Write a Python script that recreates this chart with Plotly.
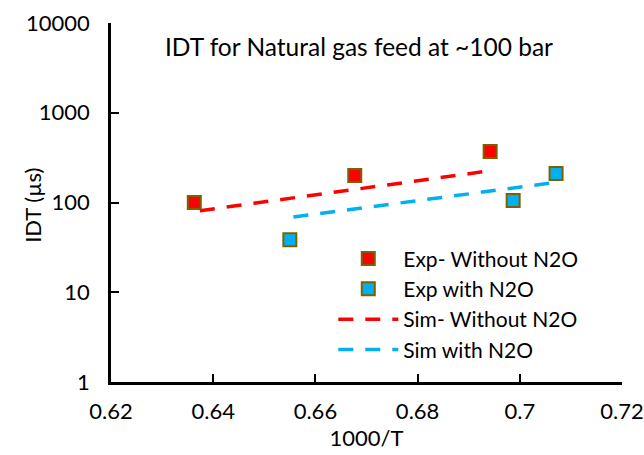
import plotly.graph_objects as go

# Data
exp_without_x = [0.6363, 0.6677, 0.6942]
exp_without_y = [100, 200, 370]
exp_with_x = [0.6550, 0.6987, 0.7071]
exp_with_y = [38.5, 105, 210]
sim_without_x = [0.6374, 0.6945]
sim_without_y = [81, 227]
sim_with_x = [0.6557, 0.7073]
sim_with_y = [69, 168]

y_tickvals = [1, 10, 100, 1000, 10000]
y_ticktext = ["1", "10", "100", "1000", "10000"]
x_tickvals = [0.62, 0.64, 0.66, 0.68, 0.70, 0.72]
x_ticktext = ["0.62", "0.64", "0.66", "0.68", "0.7", "0.72"]

FONT = "Lato"
FS = 22
RED = "#FF0000"
BLUE = "#00B0F0"
EDGE = "#7F6000"

fig = go.Figure()
fig.add_trace(go.Scatter(
    x=exp_without_x, y=exp_without_y, mode="markers", name="Exp- Without N2O",
    marker=dict(symbol="square", size=13, color=RED, line=dict(color=EDGE, width=2))))
fig.add_trace(go.Scatter(
    x=exp_with_x, y=exp_with_y, mode="markers", name="Exp with N2O",
    marker=dict(symbol="square", size=13, color=BLUE, line=dict(color=EDGE, width=2))))
fig.add_trace(go.Scatter(
    x=sim_without_x, y=sim_without_y, mode="lines", name="Sim- Without N2O",
    line=dict(color=RED, width=3.5, dash="15px,12px")))
fig.add_trace(go.Scatter(
    x=sim_with_x, y=sim_with_y, mode="lines", name="Sim with N2O",
    line=dict(color=BLUE, width=3.5, dash="15px,12px")))

fig.update_layout(
    width=644, height=455,
    margin=dict(l=111, r=22, t=23, b=73, autoexpand=False),
    plot_bgcolor="white", paper_bgcolor="white",
    font=dict(family=FONT, size=FS, color="#000000"),
    showlegend=True,
    legend=dict(x=0.435, y=0.40, xanchor="left", yanchor="top",
                bgcolor="rgba(0,0,0,0)", font=dict(size=21, family=FONT),
                itemwidth=60),
    annotations=[
        dict(text="IDT for Natural gas feed at ~100 bar",
             xref="paper", yref="paper", x=0.485, y=0.935,
             xanchor="center", yanchor="middle", showarrow=False,
             font=dict(size=24.5, family=FONT)),
        dict(text="IDT (µs)", textangle=-90,
             xref="paper", yref="paper", x=-0.155, y=0.493,
             xanchor="center", yanchor="middle", showarrow=False,
             font=dict(size=FS, family=FONT)),
    ],
)
fig.update_xaxes(
    range=[0.62, 0.72], tickvals=x_tickvals, ticktext=x_ticktext,
    showgrid=False, zeroline=False, showline=True, linecolor="black", linewidth=2.5,
    ticks="inside", ticklen=8, tickwidth=1.5, tickcolor="black",
    ticklabelstandoff=8, automargin=False,
    title=dict(text="1000/T", font=dict(size=FS, family=FONT), standoff=6),
)
fig.update_yaxes(
    type="log", range=[0, 4], tickvals=y_tickvals, ticktext=y_ticktext,
    showgrid=False, zeroline=False, showline=True, linecolor="black", linewidth=2.5,
    ticks="inside", ticklen=8, tickwidth=1.5, tickcolor="black",
    ticklabelstandoff=14, automargin=False,
)

fig.write_html("out.html", config={"displayModeBar": False},
               post_script="document.body.style.margin='0';")
